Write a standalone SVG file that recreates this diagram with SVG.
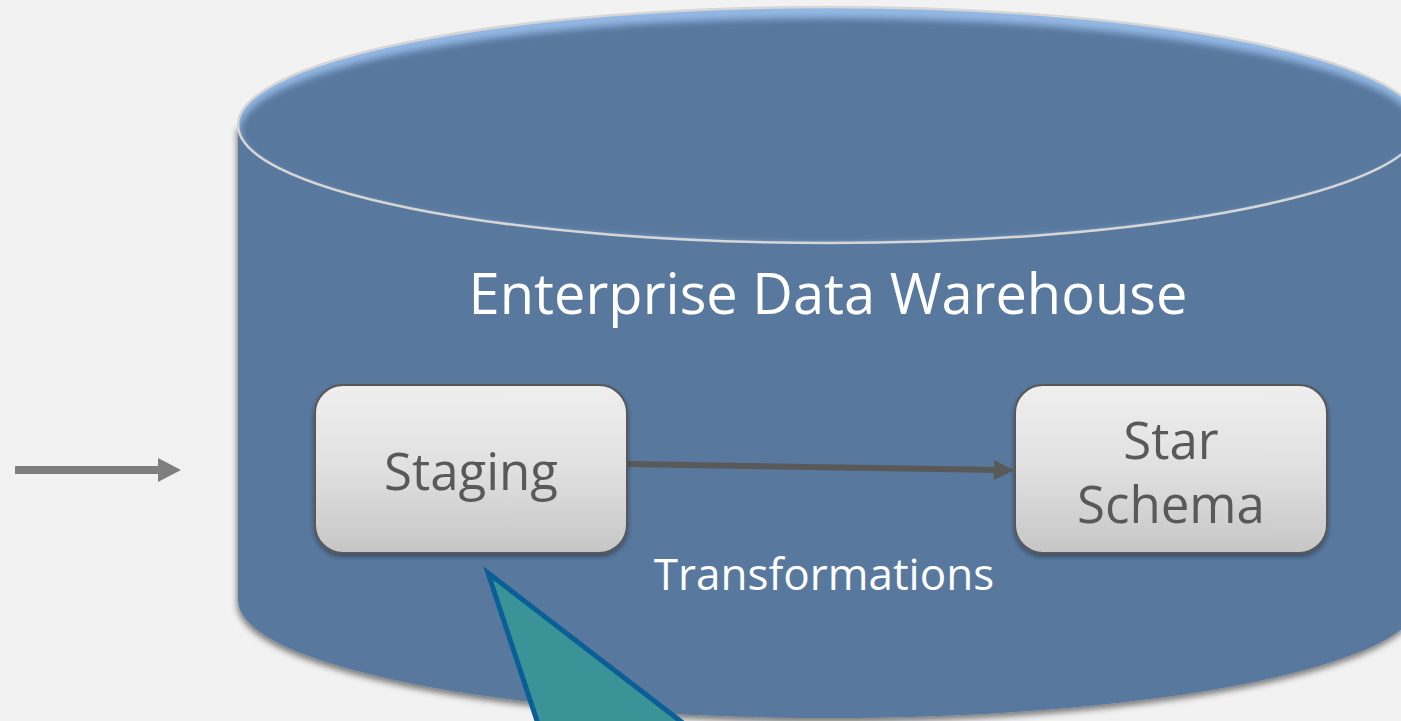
<svg xmlns="http://www.w3.org/2000/svg" width="1401" height="721" viewBox="0 0 1401 721">
  <style>
    .title { font-family: "Open Sans", "Noto Sans", sans-serif; fill: #ffffff; }
    .boxtxt { font-family: "Open Sans", "Noto Sans", sans-serif; fill: #595959; font-size: 51px; text-anchor: middle; }
    .box { fill: url(#boxGrad); stroke: #595959; stroke-width: 2; filter: url(#boxShadow); }
  </style>
  <defs>
    <linearGradient id="boxGrad" x1="0" y1="0" x2="0" y2="1">
      <stop offset="0" stop-color="#efefef"/>
      <stop offset="0.5" stop-color="#e0e0e0"/>
      <stop offset="1" stop-color="#c6c6c6"/>
    </linearGradient>
    <filter id="cylShadow" x="-5%" y="-5%" width="110%" height="115%">
      <feGaussianBlur in="SourceAlpha" stdDeviation="3"/>
      <feOffset dx="-1" dy="4" result="b"/>
      <feFlood flood-color="#000" flood-opacity="0.5"/>
      <feComposite in2="b" operator="in"/>
      <feMerge><feMergeNode/><feMergeNode in="SourceGraphic"/></feMerge>
    </filter>
    <filter id="boxShadow" x="-10%" y="-10%" width="120%" height="130%">
      <feGaussianBlur in="SourceAlpha" stdDeviation="2.5"/>
      <feOffset dx="0" dy="3" result="b"/>
      <feFlood flood-color="#000" flood-opacity="0.35"/>
      <feComposite in2="b" operator="in"/>
      <feMerge><feMergeNode/><feMergeNode in="SourceGraphic"/></feMerge>
    </filter>
    <filter id="blur3" x="-5%" y="-10%" width="110%" height="120%">
      <feGaussianBlur stdDeviation="3.5"/>
    </filter>
    <clipPath id="topClip">
      <ellipse cx="829" cy="125" rx="591" ry="118"/>
    </clipPath>
    <marker id="arrDark" viewBox="0 0 20 20" refX="6" refY="10" markerWidth="20" markerHeight="20" orient="auto" markerUnits="userSpaceOnUse" overflow="visible">
      <path d="M0,0 L20,10 L0,20 Z" fill="#595959"/>
    </marker>
    <marker id="arrGray" viewBox="0 0 23 24" refX="7" refY="12" markerWidth="23" markerHeight="24" orient="auto" markerUnits="userSpaceOnUse" overflow="visible">
      <path d="M0,0 L23,12 L0,24 Z" fill="#7f7f7f"/>
    </marker>
  </defs>

  <rect x="0" y="0" width="1401" height="721" fill="#f2f2f2"/>

  <!-- Cylinder (container) -->
  <g id="warehouse">
    <path d="M238,125 L238,600 A591,118 0 0 0 1420,600 L1420,125 Z" fill="#58789e" filter="url(#cylShadow)"/>
    <g clip-path="url(#topClip)">
      <ellipse cx="829" cy="125" rx="591" ry="118" fill="#94b8e4"/>
      <ellipse cx="829" cy="131" rx="589" ry="113" fill="#58789e" filter="url(#blur3)"/>
    </g>
    <ellipse cx="829" cy="125" rx="591" ry="118" fill="none" stroke="#d6d6d6" stroke-width="2.5"/>
    <text class="title" x="828" y="314" font-size="56" text-anchor="middle">Enterprise Data Warehouse</text>
    <text class="title" x="824" y="590" font-size="44" text-anchor="middle">Transformations</text>
  </g>

  <!-- Connectors -->
  <g id="connectors">
    <line x1="15" y1="470" x2="165" y2="470" stroke="#7f7f7f" stroke-width="8" marker-end="url(#arrGray)"/>
    <line x1="627" y1="464" x2="1000" y2="470" stroke="#595959" stroke-width="6" marker-end="url(#arrDark)"/>
  </g>

  <g id="staging">
    <rect class="box" x="315" y="385" width="312" height="168" rx="28" ry="28"/>
    <text class="boxtxt" x="471" y="490">Staging</text>
  </g>

  <g id="star-schema">
    <rect class="box" x="1015" y="385" width="312" height="168" rx="28" ry="28"/>
    <text class="boxtxt" x="1171" y="459">Star</text>
    <text class="boxtxt" x="1171" y="523">Schema</text>
  </g>

  <g id="pointer">
    <polygon points="488,573 550,760 731,760" fill="#3a9396" stroke="#0a5f96" stroke-width="5" stroke-linejoin="miter"/>
  </g>
</svg>
